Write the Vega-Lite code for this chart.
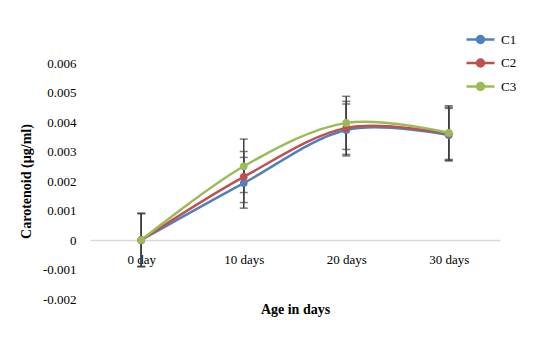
{
  "$schema": "https://vega.github.io/schema/vega-lite/v6.json",
  "width": 410,
  "height": 236,
  "autosize": {"type": "none"},
  "padding": {"left": 90, "top": 63, "right": 54, "bottom": 38},
  "background": "white",
  "config": {
    "font": "Liberation Serif",
    "view": {"stroke": null},
    "axis": {"labelFont": "Liberation Serif", "titleFont": "Liberation Serif", "labelColor": "#000000", "titleColor": "#000000"}
  },
  "data": {
    "values": [
      {"age": "0 day", "series": "C1", "value": 0.0, "lo": -0.0009, "hi": 0.0009},
      {"age": "0 day", "series": "C2", "value": 0.0, "lo": -0.0009, "hi": 0.0009},
      {"age": "0 day", "series": "C3", "value": 0.0, "lo": -0.0009, "hi": 0.0009},
      {"age": "10 days", "series": "C1", "value": 0.00193, "lo": 0.00108, "hi": 0.0028},
      {"age": "10 days", "series": "C2", "value": 0.00214, "lo": 0.00127, "hi": 0.003},
      {"age": "10 days", "series": "C3", "value": 0.0025, "lo": 0.00161, "hi": 0.00342},
      {"age": "20 days", "series": "C1", "value": 0.00373, "lo": 0.00285, "hi": 0.00461},
      {"age": "20 days", "series": "C2", "value": 0.0038, "lo": 0.0029, "hi": 0.0047},
      {"age": "20 days", "series": "C3", "value": 0.00397, "lo": 0.00307, "hi": 0.00487},
      {"age": "30 days", "series": "C1", "value": 0.00356, "lo": 0.00268, "hi": 0.00446},
      {"age": "30 days", "series": "C2", "value": 0.0036, "lo": 0.0027, "hi": 0.0045},
      {"age": "30 days", "series": "C3", "value": 0.00363, "lo": 0.00273, "hi": 0.00455}
    ]
  },
  "encoding": {
    "x": {
      "field": "age", "type": "ordinal", "sort": ["0 day", "10 days", "20 days", "30 days"],
      "scale": {"type": "point", "padding": 0.5},
      "axis": {
        "title": "Age in days", "labelAngle": 0, "offset": -59, "ticks": false, "tickSize": 0,
        "domainColor": "#d9d9d9", "domainWidth": 1.5, "labelFontSize": 13, "labelPadding": 13,
        "titleFontSize": 14, "titleFontWeight": "bold", "titlePadding": 36
      }
    },
    "y": {
      "type": "quantitative",
      "scale": {"domain": [-0.002, 0.006], "nice": false},
      "axis": {
        "title": "Carotenoid (µg/ml)", "values": [-0.002, -0.001, 0, 0.001, 0.002, 0.003, 0.004, 0.005, 0.006],
        "labelExpr": "datum.value == 0 ? '0' : replace(format(datum.value, '.3f'), '−', '-')",
        "domain": false, "ticks": false, "grid": false, "labelFontSize": 13, "labelPadding": 14,
        "titleFontSize": 14, "titleFontWeight": "bold", "titlePadding": 9
      }
    }
  },
  "layer": [
    {
      "mark": {"type": "rule", "color": "#404040", "strokeWidth": 1.5},
      "encoding": {"y": {"field": "lo", "type": "quantitative"}, "y2": {"field": "hi"}}
    },
    {
      "mark": {"type": "tick", "color": "#404040", "thickness": 1.5, "size": 8, "orient": "horizontal"},
      "encoding": {"y": {"field": "lo", "type": "quantitative"}}
    },
    {
      "mark": {"type": "tick", "color": "#404040", "thickness": 1.5, "size": 8, "orient": "horizontal"},
      "encoding": {"y": {"field": "hi", "type": "quantitative"}}
    },
    {
      "mark": {"type": "line", "interpolate": "cardinal", "strokeWidth": 2.5},
      "encoding": {
        "y": {"field": "value", "type": "quantitative"},
        "color": {
          "field": "series", "type": "nominal",
          "scale": {"domain": ["C1", "C2", "C3"], "range": ["#4F81BD", "#C0504D", "#9BBB59"]},
          "legend": {
            "title": null, "orient": "none", "legendX": 382, "legendY": -32,
            "symbolType": "M-2,0L2,0M-0.5,0A0.5,0.5,0,1,1,0.5,0A0.5,0.5,0,1,1,-0.5,0Z",
            "symbolSize": 196, "symbolStrokeWidth": 2.5, "labelFontSize": 13, "labelFont": "Liberation Serif",
            "labelColor": "#000000", "rowPadding": 6.5, "labelOffset": 12,
            "encode": {"symbols": {"update": {"fill": {"scale": "color", "field": "value"}, "stroke": {"scale": "color", "field": "value"}, "opacity": {"value": 1}, "fillOpacity": {"value": 1}}}}
          }
        }
      }
    },
    {
      "mark": {"type": "point", "filled": true, "size": 60, "opacity": 1},
      "encoding": {
        "y": {"field": "value", "type": "quantitative"},
        "color": {"field": "series", "type": "nominal"}
      }
    }
  ]
}
